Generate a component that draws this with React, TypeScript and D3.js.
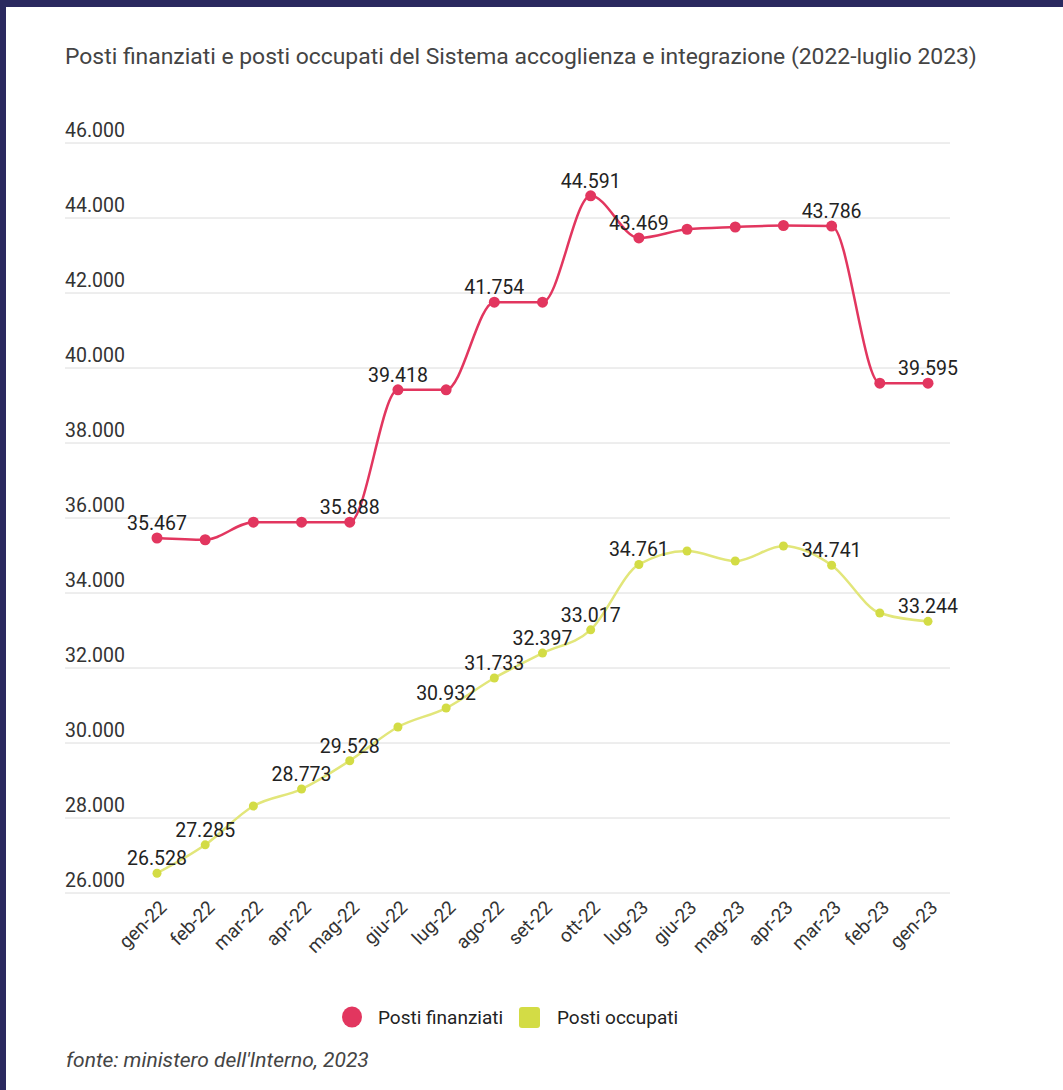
import React from "react";
import * as d3 from "d3";

const months = ["gen-22","feb-22","mar-22","apr-22","mag-22","giu-22","lug-22","ago-22","set-22","ott-22","lug-23","giu-23","mag-23","apr-23","mar-23","feb-23","gen-23"];
const finanziati = [35467,35420,35888,35888,35888,39418,39418,41754,41754,44591,43469,43700,43760,43800,43786,39595,39595];
const occupati = [26528,27285,28320,28773,29528,30427,30932,31733,32397,33017,34761,35120,34853,35253,34741,33467,33244];
const finLabelIdx = [0,4,5,7,9,10,14,16];
const occLabelIdx = [0,1,3,4,6,7,8,9,10,14,16];
const yTicks = [26000,28000,30000,32000,34000,36000,38000,40000,42000,44000,46000];
const seriesNames = ["Posti finanziati","Posti occupati"];

const W = 1063, H = 1090;
const RED = "#e2365f";
const YEL = "#d3dc45";
const YEL_LINE = "#e2e67a";
const FONT = "Roboto, 'Noto Sans', sans-serif";

const fmt = (v: number) => d3.format(",")(v).replace(/,/g, ".");

export default function App() {
  const x = d3.scalePoint<string>().domain(months).range([157, 928]);
  const y = d3.scaleLinear().domain([26000, 46000]).range([893, 143]);
  const line = d3.line<number>().x((_, i) => x(months[i])!).y(d => y(d)).curve(d3.curveMonotoneX);

  return (
    <svg width={W} height={H} style={{ position: "absolute", left: 0, top: 0, background: "#fff" }} fontFamily={FONT}>
      <rect x={0} y={0} width={W} height={H} fill="#fff" />
      <rect x={0} y={0} width={W} height={7} fill="#2a295f" />
      <rect x={0} y={0} width={6} height={H} fill="#2a295f" />
      <text x={65} y={64} fontSize={22.9} fill="#444">Posti finanziati e posti occupati del Sistema accoglienza e integrazione (2022-luglio 2023)</text>

      {yTicks.map(t => (
        <g key={t}>
          <line x1={65} x2={950} y1={y(t)} y2={y(t)} stroke="#dcdcdc" strokeWidth={1} />
          <text x={65} y={y(t) - 6} fontSize={19.5} fill="#333">{fmt(t)}</text>
        </g>
      ))}

      {months.map(m => (
        <text key={m} transform={`translate(${x(m)! + 6},${904}) rotate(-45)`} textAnchor="end" fontSize={19} fill="#333" dy="0.35em">{m}</text>
      ))}

      <path d={line(finanziati)!} fill="none" stroke={RED} strokeWidth={2.5} />
      <path d={line(occupati)!} fill="none" stroke={YEL_LINE} strokeWidth={2.5} />

      {finanziati.map((v, i) => (
        <circle key={"f" + i} cx={x(months[i])!} cy={y(v)} r={5.5} fill={RED} />
      ))}
      {occupati.map((v, i) => (
        <circle key={"o" + i} cx={x(months[i])!} cy={y(v)} r={4.5} fill={YEL} />
      ))}

      {finLabelIdx.map(i => (
        <text key={"fl" + i} x={x(months[i])!} y={y(finanziati[i]) - 8} textAnchor="middle" fontSize={19.5} fill="#222">{fmt(finanziati[i])}</text>
      ))}
      {occLabelIdx.map(i => (
        <text key={"ol" + i} x={x(months[i])!} y={y(occupati[i]) - 8} textAnchor="middle" fontSize={19.5} fill="#222">{fmt(occupati[i])}</text>
      ))}

      <ellipse cx={352} cy={1017} rx={10} ry={10.5} fill={RED} />
      <text x={378} y={1024} fontSize={19} fill="#222">{seriesNames[0]}</text>
      <rect x={519} y={1007} width={21} height={21} rx={3} fill={YEL} />
      <text x={557} y={1024} fontSize={19} fill="#222">{seriesNames[1]}</text>

      <text x={66} y={1067} fontSize={21} fontStyle="italic" fill="#444">fonte: ministero dell'Interno, 2023</text>
    </svg>
  );
}
